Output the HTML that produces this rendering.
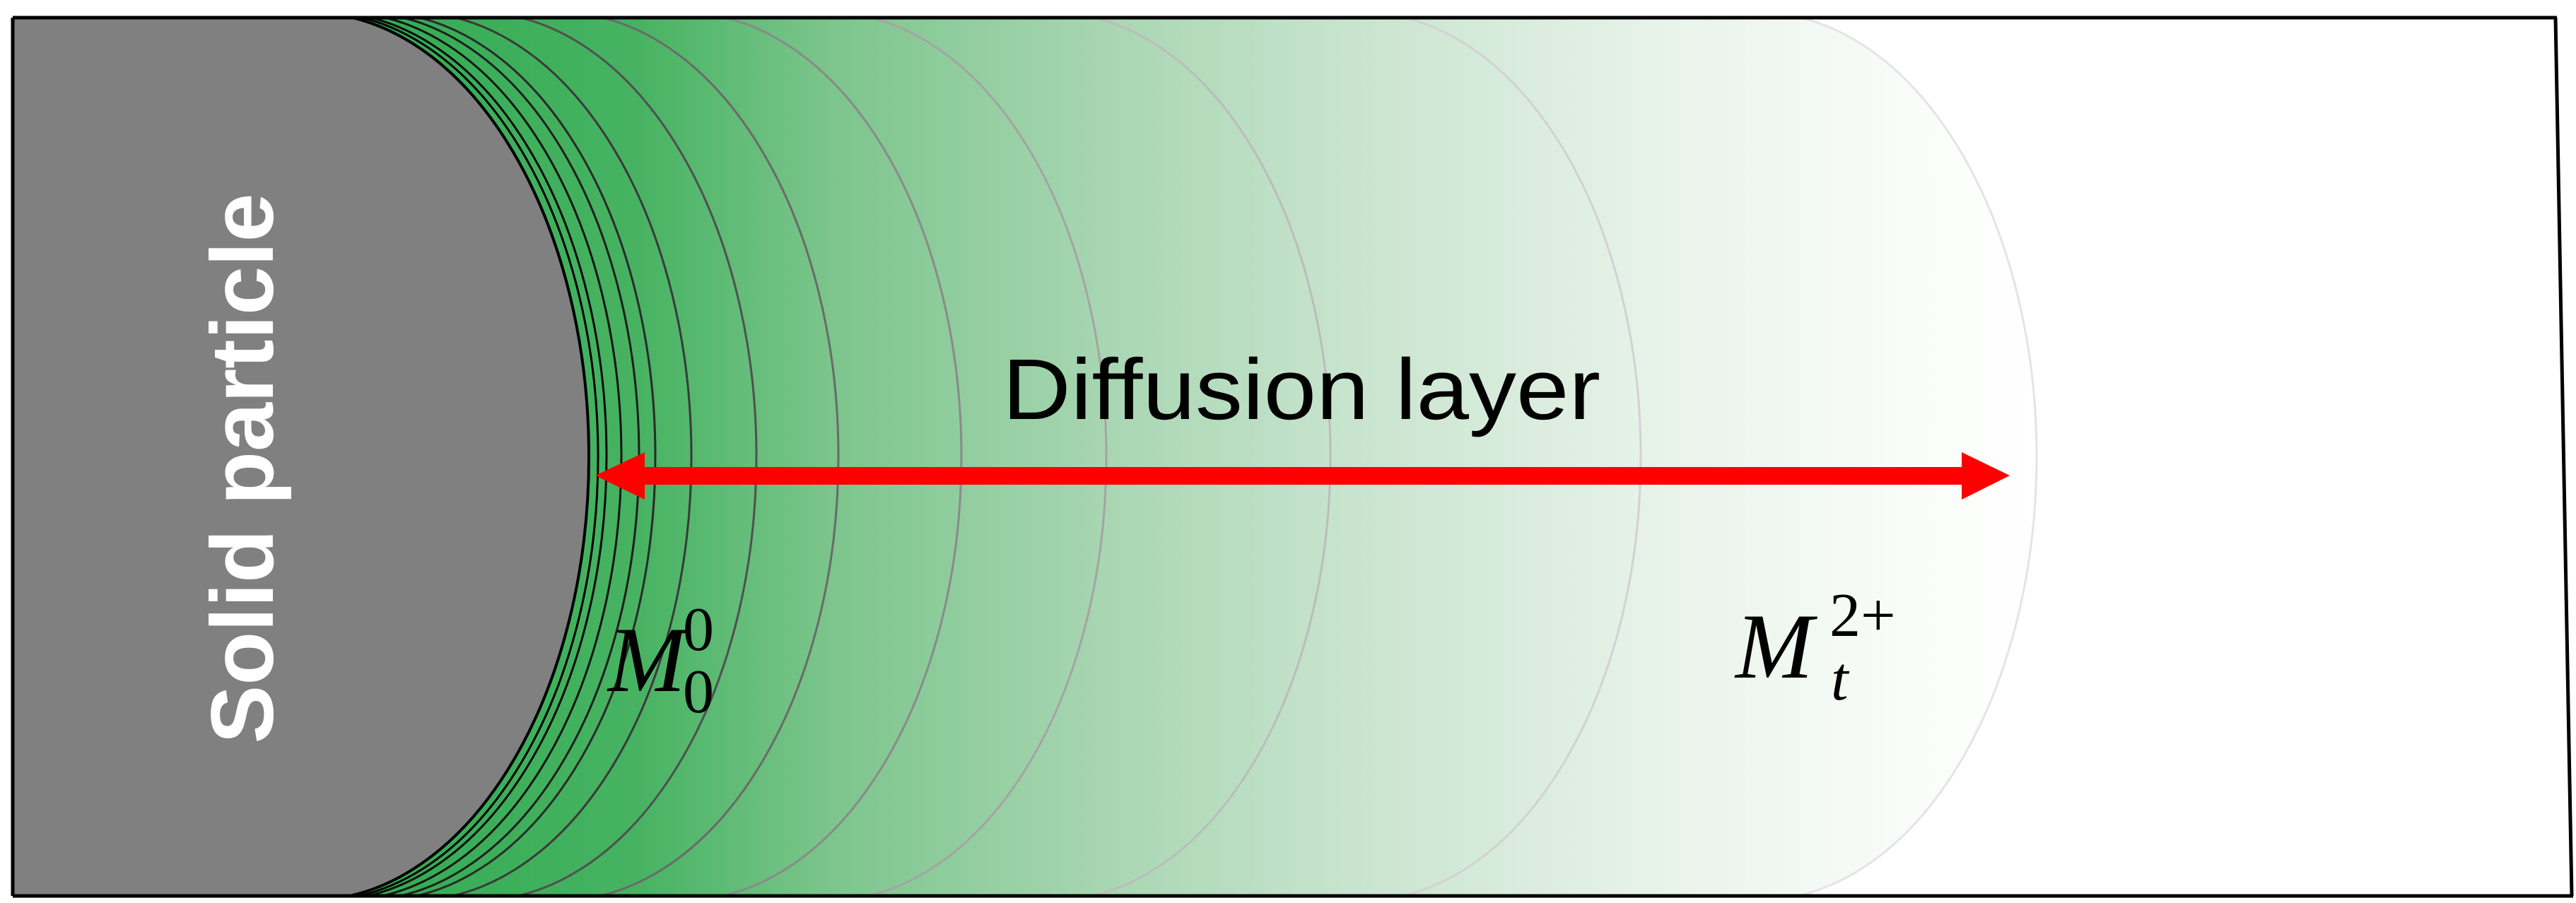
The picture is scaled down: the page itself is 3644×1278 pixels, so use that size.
<!DOCTYPE html>
<html><head><meta charset="utf-8"><style>
html,body{margin:0;padding:0;background:#fff;}
svg{display:block;}
</style></head><body>
<svg width="3644" height="1278" viewBox="0 0 3644 1278" xmlns="http://www.w3.org/2000/svg">
<defs>
<linearGradient id="g" gradientUnits="userSpaceOnUse" x1="440" y1="0" x2="2890" y2="0">
<stop offset="0" stop-color="#2ea94f"/>
<stop offset="0.19" stop-color="#47b362"/>
<stop offset="0.3" stop-color="#7cc58c"/>
<stop offset="0.46" stop-color="#a8d6b2"/>
<stop offset="0.59" stop-color="#c6e3cc"/>
<stop offset="0.77" stop-color="#e6f2e8"/>
<stop offset="0.92" stop-color="#f9fcf9"/>
<stop offset="1" stop-color="#ffffff"/>
</linearGradient>
<clipPath id="c"><rect x="18" y="25" width="3610" height="1243"/></clipPath>
</defs>
<g clip-path="url(#c)">
<path d="M0 18 L2488 18 A393 628 0 0 1 2488 1274 L0 1274 Z" fill="url(#g)"/>
<g fill="none">
<path d="M2488 18 A393 628 0 0 1 2488 1274" stroke="#e4e4e4" stroke-width="3"/>
<path d="M1928 18 A393 628 0 0 1 1928 1274" stroke="#d2d2d2" stroke-width="3"/>
<path d="M1489 18 A393 628 0 0 1 1489 1274" stroke="#bcbcbc" stroke-width="3"/>
<path d="M1172 18 A393 628 0 0 1 1172 1274" stroke="#a4a4a4" stroke-width="3"/>
<path d="M967 18 A393 628 0 0 1 967 1274" stroke="#8a8a8a" stroke-width="3"/>
<path d="M793 18 A393 628 0 0 1 793 1274" stroke="#6a6a6a" stroke-width="3"/>
<path d="M677 18 A393 628 0 0 1 677 1274" stroke="#505050" stroke-width="3"/>
<path d="M585 18 A393 628 0 0 1 585 1274" stroke="#3a3a3a" stroke-width="3"/>
<path d="M534 18 A393 628 0 0 1 534 1274" stroke="#2a2a2a" stroke-width="3"/>
<path d="M511 18 A393 628 0 0 1 511 1274" stroke="#1e1e1e" stroke-width="3"/>
<path d="M486 18 A393 628 0 0 1 486 1274" stroke="#141414" stroke-width="3"/>
<path d="M465 18 A393 628 0 0 1 465 1274" stroke="#0a0a0a" stroke-width="3"/>
<path d="M453 18 A393 628 0 0 1 453 1274" stroke="#000" stroke-width="3"/>
</g>
<path d="M0 18 L440 18 A393 628 0 0 1 440 1274 L0 1274 Z" fill="#808080" stroke="#000" stroke-width="4"/>
</g>
<!-- border -->
<g stroke="#000" stroke-width="5" fill="none">
<line x1="18" y1="25" x2="3617" y2="25"/>
<line x1="18" y1="1268" x2="3640" y2="1268"/>
<line x1="18" y1="25" x2="18" y2="1268"/>
<line x1="3615" y1="25" x2="3638" y2="1268"/>
</g>
<!-- arrow -->
<rect x="905" y="661" width="1875" height="25" fill="#ff0000"/>
<polygon points="842,673 912,640 912,707" fill="#ff0000"/>
<polygon points="2843,673 2775,640 2775,707" fill="#ff0000"/>
<!-- texts -->
<text x="1418" y="593" font-family="Liberation Sans, sans-serif" font-size="122" fill="#000" textLength="846" lengthAdjust="spacingAndGlyphs">Diffusion layer</text>
<text transform="translate(386,663) rotate(-90)" text-anchor="middle" font-family="Liberation Sans, sans-serif" font-weight="bold" font-size="125" fill="#fff" textLength="779" lengthAdjust="spacingAndGlyphs">Solid particle</text>
<g font-family="Liberation Serif, serif" fill="#000">
<text x="860" y="978" font-size="132" font-style="italic">M</text>
<text x="966" y="920" font-size="88">0</text>
<text x="966" y="1008" font-size="88">0</text>
<text x="2455" y="959" font-size="132" font-style="italic">M</text>
<text x="2588" y="900" font-size="88">2+</text>
<text x="2590" y="990" font-size="88" font-style="italic">t</text>
</g>
</svg>
</body></html>
